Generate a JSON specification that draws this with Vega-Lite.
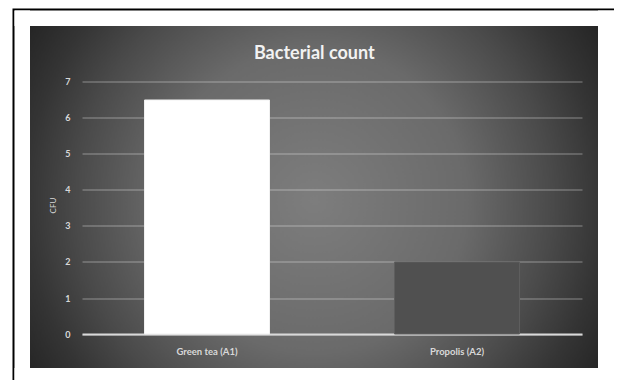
{
  "$schema": "https://vega.github.io/schema/vega-lite/v6.json",
  "autosize": {"type": "none"},
  "width": 599.5,
  "height": 380,
  "padding": {"left": 14.5, "top": 10.5, "right": 0, "bottom": 0},
  "background": "white",
  "title": {
    "text": "Bacterial count",
    "font": "Lato",
    "fontSize": 18,
    "fontWeight": "bold",
    "color": "#f2f2f2",
    "anchor": "middle",
    "baseline": "alphabetic",
    "offset": -66
  },
  "config": {
    "view": {
      "stroke": "black",
      "strokeWidth": 4,
      "fill": {
        "gradient": "radial",
        "x1": 0.5, "y1": 0.5, "r1": 0,
        "x2": 0.5, "y2": 0.5, "r2": 0.566,
        "stops": [
          {"offset": 0, "color": "#7d7d7d"},
          {"offset": 0.45, "color": "#6a6a6a"},
          {"offset": 0.7, "color": "#4a4a4a"},
          {"offset": 0.85, "color": "#343434"},
          {"offset": 1, "color": "#232323"}
        ]
      }
    }
  },
  "layer": [
    {
      "data": {"values": [{}]},
      "mark": {
        "type": "rect",
        "fill": {
          "gradient": "linear",
          "x1": 0, "y1": 0, "x2": 1, "y2": 0,
          "stops": [
            {"offset": 0, "color": "rgba(255,255,255,1)"},
            {"offset": 0.0258, "color": "rgba(255,255,255,1)"},
            {"offset": 0.0259, "color": "rgba(255,255,255,0)"},
            {"offset": 0.9733, "color": "rgba(255,255,255,0)"},
            {"offset": 0.9734, "color": "rgba(255,255,255,1)"},
            {"offset": 1, "color": "rgba(255,255,255,1)"}
          ]
        }
      },
      "encoding": {}
    },
    {
      "data": {"values": [{}]},
      "mark": {
        "type": "rect",
        "fill": {
          "gradient": "linear",
          "x1": 0, "y1": 0, "x2": 0, "y2": 1,
          "stops": [
            {"offset": 0, "color": "rgba(255,255,255,1)"},
            {"offset": 0.0407, "color": "rgba(255,255,255,1)"},
            {"offset": 0.0408, "color": "rgba(255,255,255,0)"},
            {"offset": 0.9407, "color": "rgba(255,255,255,0)"},
            {"offset": 0.9408, "color": "rgba(255,255,255,1)"},
            {"offset": 1, "color": "rgba(255,255,255,1)"}
          ]
        }
      },
      "encoding": {}
    },
    {
      "data": {
        "values": [
          {"treatment": "Green tea (A1)", "cfu": 6.5},
          {"treatment": "Propolis (A2)", "cfu": 2.0}
        ]
      },
      "mark": {"type": "bar", "strokeWidth": 1},
      "encoding": {
        "x": {
          "field": "treatment",
          "type": "nominal",
          "sort": null,
          "scale": {"range": [67.5, 567.5], "paddingInner": 0.5, "paddingOuter": 0.25},
          "axis": {
            "title": null,
            "offset": -56.5,
            "domainColor": "#d9d9d9",
            "domainWidth": 2,
            "ticks": false,
            "tickSize": 0,
            "labelPadding": 12,
            "labelFont": "Lato",
            "labelFontSize": 9.5,
            "labelFontWeight": "bold",
            "labelColor": "#d9d9d9",
            "labelAngle": 0
          }
        },
        "y": {
          "field": "cfu",
          "type": "quantitative",
          "scale": {"domain": [-1.5694, 8.986], "nice": false, "zero": false},
          "axis": {
            "title": "CFU",
            "values": [0, 1, 2, 3, 4, 5, 6, 7],
            "offset": -67.5,
            "domain": false,
            "ticks": false,
            "tickSize": 0,
            "labelPadding": 12,
            "labelFont": "Lato",
            "labelFontSize": 9,
            "labelFontWeight": "bold",
            "labelColor": "#d9d9d9",
            "grid": true,
            "gridColor": "white",
            "gridOpacity": 0.4,
            "gridWidth": 1,
            "titleFont": "Lato",
            "titleFontSize": 8,
            "titleFontWeight": "normal",
            "titleColor": "#d9d9d9",
            "titleAngle": -90,
            "titleAlign": "center",
            "titleBaseline": "middle",
            "titleX": -29,
            "titleY": 194.5
          }
        },
        "color": {
          "field": "treatment",
          "type": "nominal",
          "scale": {"domain": ["Green tea (A1)", "Propolis (A2)"], "range": ["#ffffff", "#505050"]},
          "legend": null
        },
        "stroke": {
          "field": "treatment",
          "type": "nominal",
          "scale": {"domain": ["Green tea (A1)", "Propolis (A2)"], "range": ["#f0f0f0", "#5e5e5e"]},
          "legend": null
        }
      }
    }
  ]
}
